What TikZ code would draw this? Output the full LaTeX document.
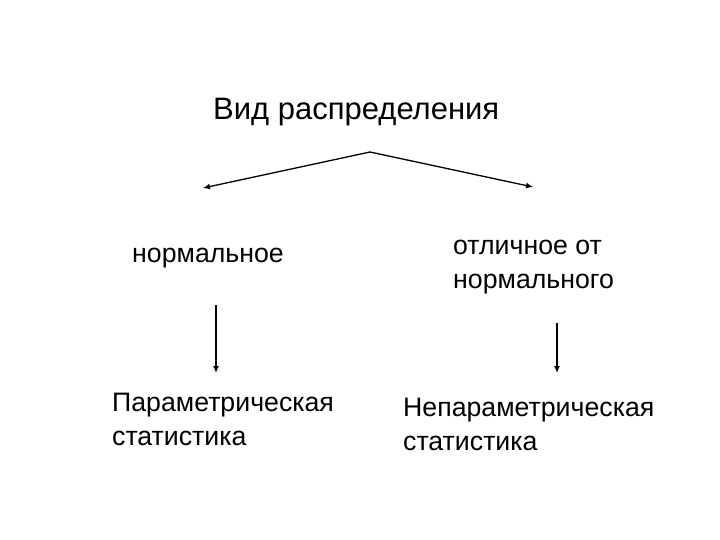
\documentclass[tikz,border=0pt]{standalone}
\usepackage{fontspec}
\setmainfont{Liberation Sans}
\usetikzlibrary{arrows.meta, positioning}

\begin{document}
\begin{tikzpicture}[x=1pt, y=-1pt,
                    lbl/.style={inner sep=0pt, anchor=base west, align=left,
                                font=\fontsize{26.7}{34}\selectfont},
                    arr/.style={-{Latex[length=7pt,width=6pt]}, line width=1.3pt}]
                    \useasboundingbox (0,0) rectangle (720,540);
                    % labels (base = last line)
                    \node[lbl, font=\fontsize{31}{36}\selectfont] (vid) at (213,120) {Вид распределения};
                    \node[lbl] (norm) at (132,262) {нормальное};
                    \node[lbl] (other) at (453,288) {отличное от\\нормального};
                    \node[lbl] (param) at (112,445) {Параметрическая\\статистика};
                    \node[lbl] (nonparam) at (403,450) {Непараметрическая\\статистика};
                    % arrow ends
                    \coordinate (apex) at (370,152);
                    \coordinate (lend) at (203,188);
                    \coordinate (rend) at (533,187);
                    \coordinate (ltop) at (216,305);
                    \coordinate (lbot) at (216,373);
                    \coordinate (rtop) at (557,323);
                    \coordinate (rbot) at (557,373);
                    \draw[arr] (apex) -- (lend);
                    \draw[arr] (apex) -- (rend);
                    \draw[arr, line width=1.8pt] (ltop) -- (lbot);
                    \draw[arr, line width=1.8pt] (rtop) -- (rbot);
                \end{tikzpicture}
\end{document}
